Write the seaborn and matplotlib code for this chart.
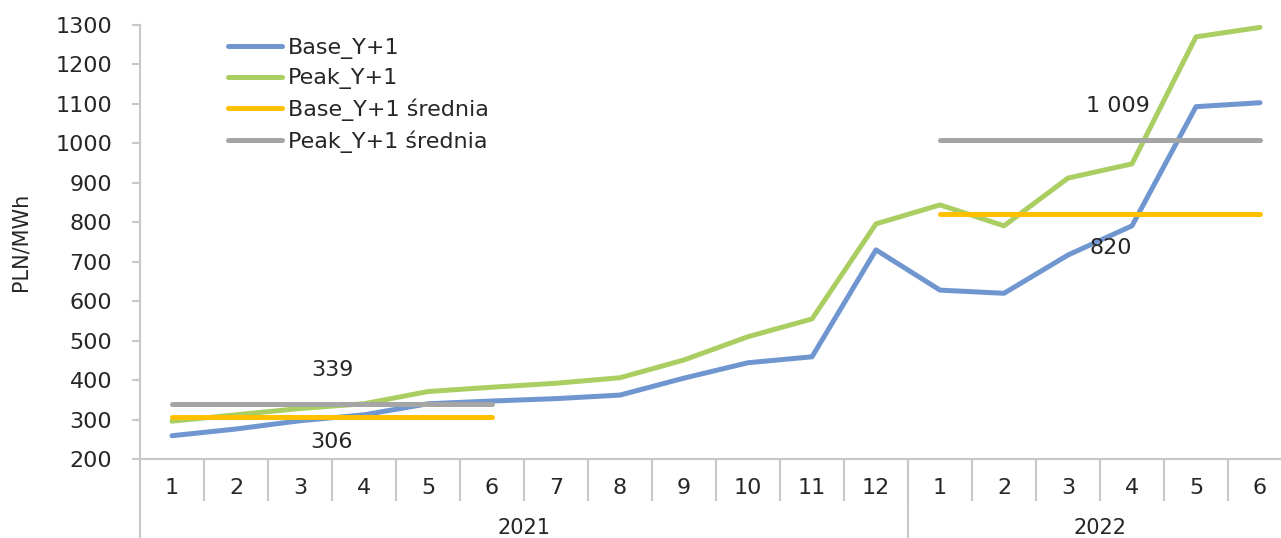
import numpy as np
import pandas as pd
import matplotlib
matplotlib.use("Agg")
import matplotlib.pyplot as plt
import matplotlib.transforms as mtransforms
import seaborn as sns

# ---- data ----
years = ["2021"] * 12 + ["2022"] * 6
months = [str(m) for m in range(1, 13)] + [str(m) for m in range(1, 7)]
base_y1 = [259, 276, 297, 312, 340, 347, 353, 362, 405, 444, 459, 730,
           628, 620, 717, 791, 1093, 1103]
peak_y1 = [296, 312, 328, 340, 371, 382, 392, 406, 451, 510, 555, 796,
           844, 791, 912, 948, 1270, 1294]
base_avg = [306, 820]
peak_avg = [339, 1009]
avg_labels_base = ["306", "820"]
avg_labels_peak = ["339", "1 009"]
year_names = ["2021", "2022"]

col_base = "#7096d0"
col_peak = "#abce63"
col_base_avg = "#ffc000"
col_peak_avg = "#a5a5a5"
grid_col = "#c8c8c8"

sns.set_theme(style="white")
plt.rcParams["font.family"] = ["DejaVu Sans"]

fig = plt.figure(figsize=(12.81, 5.38), dpi=100)
W, H = 1281, 538
ax = fig.add_axes([140 / W, (H - 459) / H, (1292 - 140) / W, (459 - 25) / H])

idx = np.arange(len(months))
df = pd.DataFrame({"x": idx, "Base_Y+1": base_y1, "Peak_Y+1": peak_y1})

lw = 3.6
sns.lineplot(data=df, x="x", y="Base_Y+1", ax=ax, color=col_base, lw=lw,
             label="Base_Y+1", solid_capstyle="round")
sns.lineplot(data=df, x="x", y="Peak_Y+1", ax=ax, color=col_peak, lw=lw,
             label="Peak_Y+1", solid_capstyle="round")

# average segments per year (first half of 2021, first half of 2022)
year_arr = np.array(years)
for k, yname in enumerate(year_names):
    xs = idx[year_arr == yname][:6]
    seg = pd.DataFrame({"x": [xs[0], xs[-1]], "b": [base_avg[k]] * 2, "p": [peak_avg[k]] * 2})
    sns.lineplot(data=seg, x="x", y="b", ax=ax, color=col_base_avg, lw=lw,
                 label="Base_Y+1 średnia" if k == 0 else None, solid_capstyle="round")
    sns.lineplot(data=seg, x="x", y="p", ax=ax, color=col_peak_avg, lw=lw,
                 label="Peak_Y+1 średnia" if k == 0 else None, solid_capstyle="round")
    cx = (xs[0] + xs[-1]) / 2
    dxp = 0 if k == 0 else 13
    dxb = 0 if k == 0 else 8
    ax.annotate(avg_labels_peak[k], (cx, peak_avg[k]), xytext=(dxp, 24.5),
                textcoords="offset points", ha="center", va="center", fontsize=16)
    ax.annotate(avg_labels_base[k], (cx, base_avg[k]), xytext=(dxb, -18 if k == 0 else -24),
                textcoords="offset points", ha="center", va="center", fontsize=16)

ax.set_xlim(-0.5, len(months) - 0.5)
ax.set_ylim(200, 1300)
ax.set_yticks(range(200, 1301, 100))
ax.set_xlabel("")
ax.set_ylabel("PLN/MWh", fontsize=15, labelpad=18)

# spines
for s in ["top", "right"]:
    ax.spines[s].set_visible(False)
ax.spines["left"].set_color(grid_col)
ax.spines["bottom"].set_color(grid_col)
ax.spines["left"].set_linewidth(1.5)
ax.spines["bottom"].set_linewidth(1.5)

ax.tick_params(axis="y", which="major", direction="out", length=6, width=1.5,
               color=grid_col, labelsize=16, pad=14, left=True)

# month labels (major, no tick) and separators (minor)
ax.set_xticks(idx)
ax.set_xticklabels(months, fontsize=16)
ax.set_xticks(np.arange(0.5, len(months) - 0.5, 1), minor=True)
ax.tick_params(axis="x", which="major", length=0, pad=14, bottom=True)
ax.tick_params(axis="x", which="minor", length=30, width=1.5, color=grid_col,
               direction="out", bottom=True)

# year separators and labels
trans = mtransforms.blended_transform_factory(ax.transData, ax.transAxes)
bottom_frac = -(538 - 459) / 434
starts = [0, 12]
ends = [11, 17]
for b in [-0.5, 11.5]:
    ax.plot([b, b], [0, bottom_frac], transform=trans, color=grid_col, lw=1.5,
            clip_on=False)
for k, yname in enumerate(year_names):
    cx = (starts[k] + ends[k]) / 2
    ax.text(cx, -(528 - 459) / 434, yname, transform=trans, ha="center",
            va="center", fontsize=15)

# legend
h, l = ax.get_legend_handles_labels()
leg = ax.legend(h, l, loc="upper left", bbox_to_anchor=((228 - 140) / 1152, 1 - (38 - 25) / 434),
                frameon=False, fontsize=16, handlelength=2.45, handletextpad=0.25,
                labelspacing=0.42, borderaxespad=0, borderpad=0)

fig.savefig("out.png", dpi=100)
